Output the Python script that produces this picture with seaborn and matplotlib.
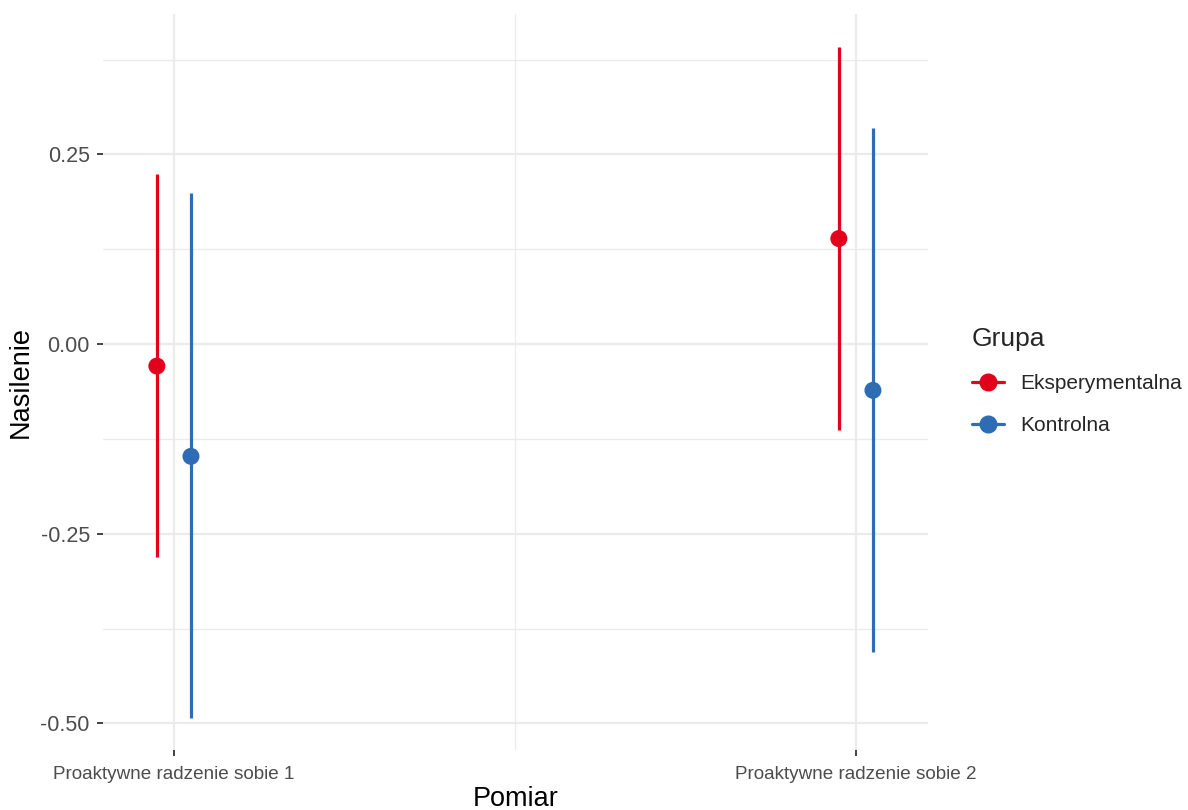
import numpy as np
import pandas as pd
import seaborn as sns
import matplotlib.pyplot as plt
from matplotlib.lines import Line2D

sns.set_theme(style="white")
plt.rcParams["font.family"] = ["Liberation Sans", "DejaVu Sans"]

pomiar = ["Proaktywne radzenie sobie 1", "Proaktywne radzenie sobie 2"]
grupy = ["Eksperymentalna", "Kontrolna"]
srednia = {"Eksperymentalna": [-0.029, 0.139], "Kontrolna": [-0.148, -0.061]}
dolna = {"Eksperymentalna": [-0.281, -0.113], "Kontrolna": [-0.493, -0.406]}
gorna = {"Eksperymentalna": [0.224, 0.391], "Kontrolna": [0.199, 0.285]}
kolory = {"Eksperymentalna": "#E2001A", "Kontrolna": "#2E6DB4"}
dodge = {"Eksperymentalna": -0.025, "Kontrolna": 0.025}

rows = []
for g in grupy:
    for i, p in enumerate(pomiar):
        rows.append({"Pomiar": p, "Grupa": g, "x": i + dodge[g],
                     "y": srednia[g][i], "lo": dolna[g][i], "hi": gorna[g][i]})
df = pd.DataFrame(rows)

fig = plt.figure(figsize=(11.88, 8.10), dpi=100)
ax = fig.add_axes([0.0867, 0.0741, 0.6946, 0.9086])

# siatka w stylu ggplot
for y in [-0.375, -0.125, 0.125, 0.375]:
    ax.axhline(y, color="#EBEBEB", lw=1.0, zorder=0)
for y in [-0.5, -0.25, 0.0, 0.25]:
    ax.axhline(y, color="#EBEBEB", lw=1.6, zorder=0)
ax.axvline(0.5, color="#EBEBEB", lw=1.0, zorder=0)
for x in [0, 1]:
    ax.axvline(x, color="#EBEBEB", lw=1.6, zorder=0)

for g in grupy:
    d = df[df["Grupa"] == g]
    ax.vlines(d["x"], d["lo"], d["hi"], color=kolory[g], lw=2.3, zorder=2)

sns.scatterplot(data=df, x="x", y="y", hue="Grupa", palette=kolory,
                s=150, linewidth=0, legend=False, ax=ax, zorder=3)

ax.set_xlim(-0.104, 1.106)
ax.set_ylim(-0.535, 0.435)
ax.set_xticks([0, 1])
ax.set_xticklabels(pomiar)
ax.set_yticks([-0.5, -0.25, 0.0, 0.25])
ax.set_yticklabels(["-0.50", "-0.25", "0.00", "0.25"])
ax.tick_params(axis="both", length=4.5, width=1.3, color="#333333",
               labelcolor="#4D4D4D", bottom=True, left=True)
ax.tick_params(axis="x", labelsize=13.6, pad=7)
ax.tick_params(axis="y", labelsize=15.5, pad=5)
for s in ax.spines.values():
    s.set_visible(False)
ax.set_xlabel("Pomiar", fontsize=19.5, color="black", labelpad=2)
ax.set_ylabel("Nasilenie", fontsize=19.5, color="black", labelpad=5)

handles = [Line2D([0], [0], color=kolory[g], lw=2.3, marker="o", markersize=12)
           for g in grupy]
leg = fig.legend(handles, grupy, title="Grupa", loc="upper left",
                 bbox_to_anchor=(0.806, 0.614), frameon=False, fontsize=15,
                 title_fontsize=19, handlelength=1.55, labelspacing=1.1,
                 handletextpad=0.75, borderpad=0.2)
leg._legend_box.align = "left"

fig.savefig("out.png", dpi=100)
